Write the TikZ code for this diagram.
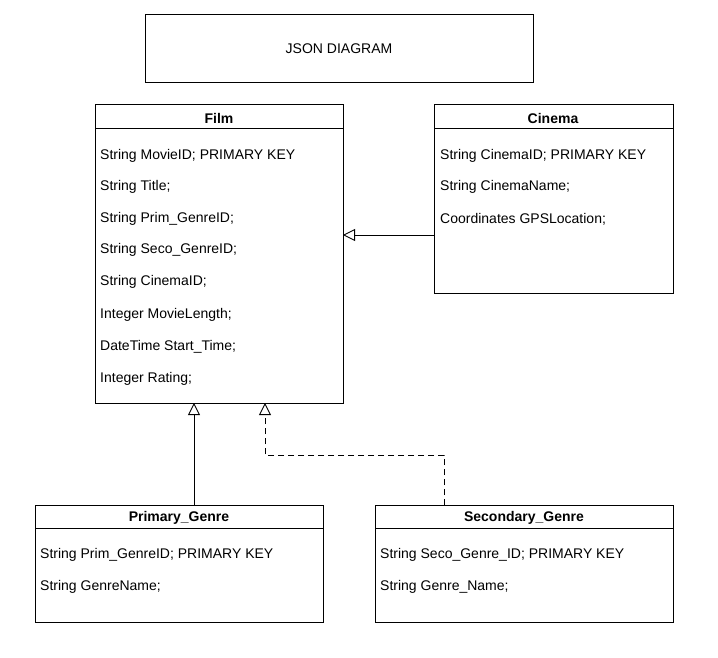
\documentclass[tikz,border=0pt]{standalone}
\usepackage{fontspec}
\setmainfont{Liberation Sans}
\usetikzlibrary{arrows.meta}
\begin{document}
\begin{tikzpicture}[x=1pt,y=-1pt,
  box/.style={draw=black,line width=0.9pt},
  attr/.style={anchor=west,inner sep=0pt,font=\fontsize{14}{16}\selectfont},
  ttl/.style={inner sep=0pt,font=\fontsize{14}{16}\selectfont\bfseries},
  gen/.style={-{Triangle[open,length=12pt,width=12pt]},line width=0.9pt}]
\useasboundingbox (0,0) rectangle (718,658);
% title box
\draw[box] (145,14) rectangle (533,82);
\node[inner sep=0pt,font=\fontsize{14}{16}\selectfont] (jt) at (339,49) {JSON DIAGRAM};
% Film
\draw[box] (95,104) rectangle (343,403);
\draw[box] (95,128) -- (343,128);
\node[ttl] (filmt) at (219,118) {Film};
\coordinate (filmR) at (343,235);
\coordinate (filmB1) at (194,403);
\coordinate (filmB2) at (265,403);
\node[attr] (f1) at (100,156) {String MovieID; PRIMARY KEY};
\node[attr] (f2) at (100,187) {String Title;};
\node[attr] (f3) at (100,219) {String Prim\_GenreID;};
\node[attr] (f4) at (100,250) {String Seco\_GenreID;};
\node[attr] (f5) at (100,282) {String CinemaID;};
\node[attr] (f6) at (100,315) {Integer MovieLength;};
\node[attr] (f7) at (100,347) {DateTime Start\_Time;};
\node[attr] (f8) at (100,379) {Integer Rating;};
% Cinema
\draw[box] (434,104) rectangle (673,293);
\draw[box] (434,128) -- (673,128);
\node[ttl] (cint) at (553,118) {Cinema};
\coordinate (cinL) at (434,235);
\node[attr] (c1) at (440,156) {String CinemaID; PRIMARY KEY};
\node[attr] (c2) at (440,187) {String CinemaName;};
\node[attr] (c3) at (440,219) {Coordinates GPSLocation;};
% Primary genre
\draw[box] (35,505) rectangle (323,622);
\draw[box] (35,528) -- (323,528);
\node[ttl] (pgt) at (179,518) {Primary\_Genre};
\coordinate (pgT) at (194,505);
\node[attr] (p1) at (40,555) {String Prim\_GenreID; PRIMARY KEY};
\node[attr] (p2) at (40,587) {String GenreName;};
% Secondary genre
\draw[box] (375,505) rectangle (673,622);
\draw[box] (375,528) -- (673,528);
\node[ttl] (sgt) at (524,518) {Secondary\_Genre};
\coordinate (sgT) at (444,505);
\node[attr] (s1) at (380,555) {String Seco\_Genre\_ID; PRIMARY KEY};
\node[attr] (s2) at (380,587) {String Genre\_Name;};
% connectors
\draw[gen] (cinL) -- (filmR);
\draw[gen] (pgT) -- (filmB1);
\draw[gen,dash pattern=on 6pt off 4pt] (sgT) -- (444,455) -- (265,455) -- (filmB2);
\end{tikzpicture}
\end{document}
